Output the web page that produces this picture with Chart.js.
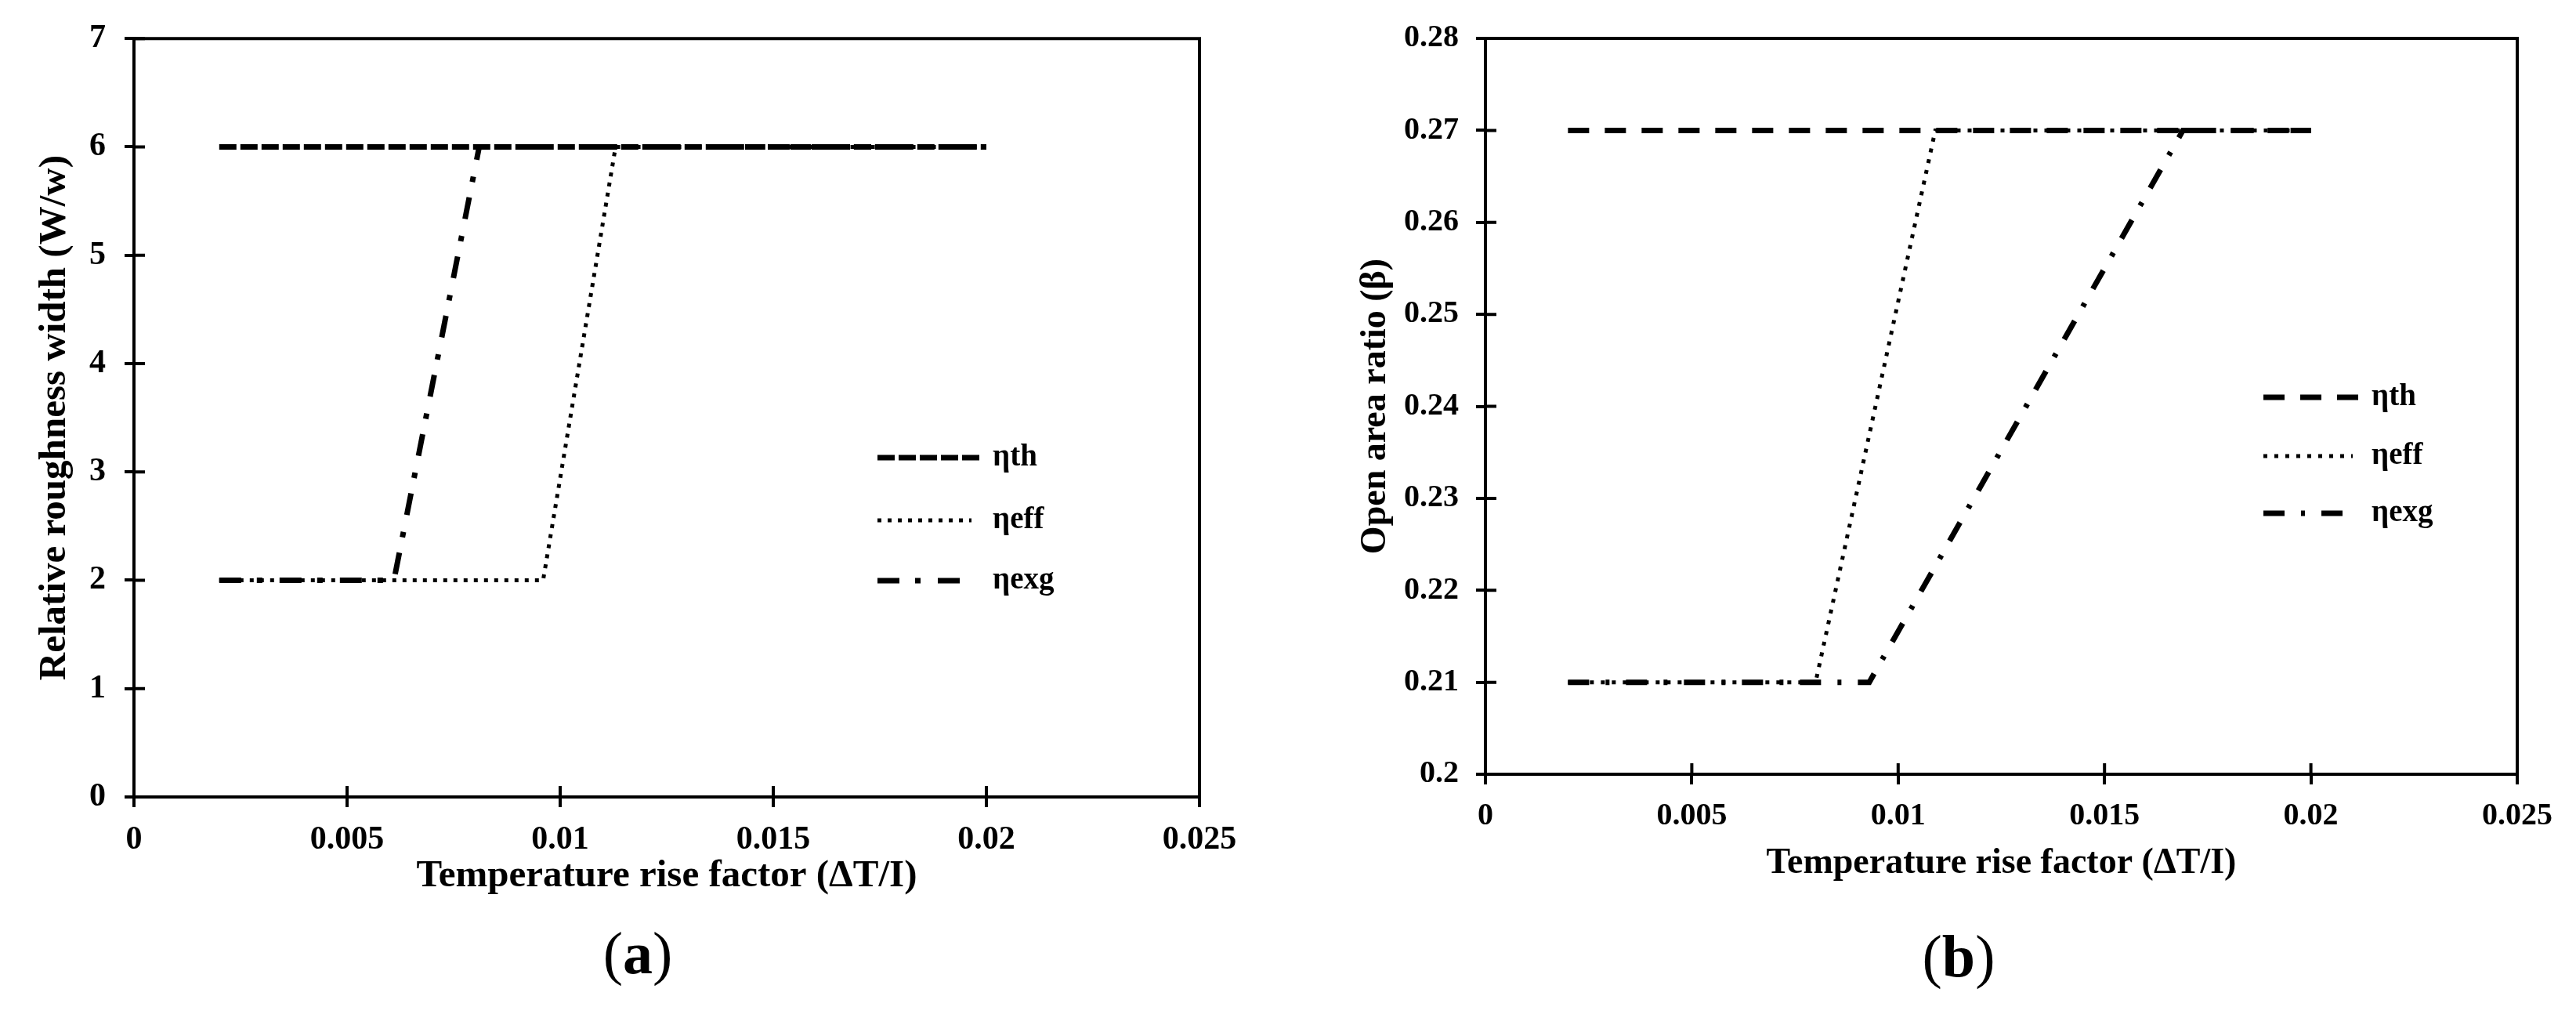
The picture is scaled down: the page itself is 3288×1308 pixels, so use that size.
<!DOCTYPE html>
<html>
<head>
<meta charset="utf-8">
<script src="https://cdn.jsdelivr.net/npm/chart.js@4.4.1/dist/chart.umd.min.js"></script>
<style>
  html, body { margin: 0; padding: 0; background: #fff; overflow: hidden; }
  #page { position: relative; width: 3288px; height: 1308px; background: #fff; }
  canvas { position: absolute; top: 0; }
  .cap { position: absolute; width: 200px; height: 90px; line-height: 90px; text-align: center;
         font-family: "Liberation Serif", serif; font-size: 76px; color: #000; }
</style>
</head>
<body>
<div id="page">
  <canvas id="chartA" width="1640" height="1308" style="left:0px"></canvas>
  <canvas id="chartB" width="1638" height="1308" style="left:1650px"></canvas>
  <div class="cap" style="left:714px; top:1171px">(<b>a</b>)</div>
  <div class="cap" style="left:2400px; top:1175px">(<b>b</b>)</div>
</div>
<script>
// DATA - (a) relative roughness width
const seriesNames = ["\u03b7th", "\u03b7eff", "\u03b7exg"];

const aThX = [0.002, 0.02];
const aThY = [6, 6];
const aEffX = [0.002, 0.0096, 0.0113, 0.02];
const aEffY = [2, 2, 6, 6];
const aExgX = [0.002, 0.0061, 0.0081, 0.02];
const aExgY = [2, 2, 6, 6];

// DATA - (b) open area ratio
const bThX = [0.002, 0.02];
const bThY = [0.27, 0.27];
const bEffX = [0.002, 0.008, 0.0109, 0.02];
const bEffY = [0.21, 0.21, 0.27, 0.27];
const bExgX = [0.002, 0.0093, 0.0169, 0.02];
const bExgY = [0.21, 0.21, 0.27, 0.27];

// tick labels
const xTicks = [0, 0.005, 0.01, 0.015, 0.02, 0.025];
const aYTicks = [0, 1, 2, 3, 4, 5, 6, 7];
const bYTicks = [0.2, 0.21, 0.22, 0.23, 0.24, 0.25, 0.26, 0.27, 0.28];

const FONT = "'Liberation Serif', 'Times New Roman', serif";

function toPoints(xs, ys) {
  return xs.map((x, i) => ({ x: x, y: ys[i] }));
}
function fmt(v) {
  return String(+v.toFixed(4));
}

// frame on top/right + inner half of the tick marks (ticks cross the axes in the original)
const frameTicks = {
  id: 'frameTicks',
  afterDraw(chart) {
    const ctx = chart.ctx;
    const a = chart.chartArea;
    const xs = chart.scales.x, ys = chart.scales.y;
    ctx.save();
    ctx.strokeStyle = '#000';
    ctx.lineWidth = 4;
    ctx.beginPath();
    ctx.moveTo(a.left, a.top);
    ctx.lineTo(a.right, a.top);
    ctx.lineTo(a.right, a.bottom);
    ctx.stroke();
    ctx.beginPath();
    xs.ticks.forEach(t => {
      const px = xs.getPixelForValue(t.value);
      ctx.moveTo(px, a.bottom);
      ctx.lineTo(px, a.bottom - 14);
    });
    ys.ticks.forEach(t => {
      const py = ys.getPixelForValue(t.value);
      ctx.moveTo(a.left, py);
      ctx.lineTo(a.left + 14, py);
    });
    ctx.stroke();
    ctx.restore();
  }
};

// legend drawn inside the plot, like the original figure
const innerLegend = {
  id: 'innerLegend',
  afterDraw(chart, args, opts) {
    const ctx = chart.ctx;
    ctx.save();
    chart.data.datasets.forEach((ds, i) => {
      const y = opts.rows[i];
      ctx.strokeStyle = '#000';
      ctx.lineWidth = ds.borderWidth;
      ctx.setLineDash(ds.borderDash || []);
      ctx.beginPath();
      ctx.moveTo(opts.x, y);
      ctx.lineTo(opts.x + opts.lengths[i], y);
      ctx.stroke();
      ctx.setLineDash([]);
      ctx.fillStyle = '#000';
      ctx.font = 'bold ' + opts.size + 'px ' + FONT;
      ctx.textAlign = 'left';
      ctx.textBaseline = 'middle';
      ctx.fillText(ds.label, opts.textX, y);
    });
    ctx.restore();
  }
};

function makeChart(el, cfg) {
  return new Chart(el, {
    type: 'line',
    data: {
      datasets: [
        { label: seriesNames[0], data: cfg.th, borderColor: '#000', borderWidth: 7, borderDash: cfg.dashTh },
        { label: seriesNames[1], data: cfg.eff, borderColor: '#000', borderWidth: 5, borderDash: cfg.dashEff },
        { label: seriesNames[2], data: cfg.exg, borderColor: '#000', borderWidth: 7, borderDash: cfg.dashExg }
      ]
    },
    options: {
      responsive: false,
      animation: false,
      devicePixelRatio: 1,
      elements: {
        point: { radius: 0, hoverRadius: 0 },
        line: { tension: 0, fill: false, borderCapStyle: 'butt', borderJoinStyle: 'miter' }
      },
      layout: { padding: cfg.padding },
      plugins: {
        legend: { display: false },
        tooltip: { enabled: false },
        innerLegend: cfg.legend
      },
      scales: {
        x: {
          type: 'linear',
          min: xTicks[0],
          max: xTicks[xTicks.length - 1],
          afterBuildTicks: s => { s.ticks = xTicks.map(v => ({ value: v })); },
          afterFit: s => { s.height = cfg.xHeight; },
          ticks: {
            color: '#000', padding: 17, maxRotation: 0, autoSkip: false,
            font: { family: FONT, size: cfg.tickSize, weight: 'bold' },
            callback: v => fmt(v)
          },
          grid: { drawOnChartArea: false, drawTicks: true, tickLength: 13, color: '#000', lineWidth: 4 },
          border: { display: true, color: '#000', width: 4 },
          title: {
            display: true, text: 'Temperature rise factor (\u0394T/I)', color: '#000',
            padding: { top: 0, bottom: cfg.xTitlePad },
            font: { family: FONT, size: cfg.titleSize, weight: 'bold', lineHeight: 1 }
          }
        },
        y: {
          type: 'linear',
          min: cfg.yTicks[0],
          max: cfg.yTicks[cfg.yTicks.length - 1],
          afterBuildTicks: s => { s.ticks = cfg.yTicks.map(v => ({ value: v })); },
          afterFit: s => { s.width = cfg.yWidth; },
          ticks: {
            color: '#000', padding: cfg.yTickPad, autoSkip: false,
            font: { family: FONT, size: cfg.tickSize, weight: 'bold' },
            callback: v => fmt(v)
          },
          grid: { drawOnChartArea: false, drawTicks: true, tickLength: 12, color: '#000', lineWidth: 4 },
          border: { display: true, color: '#000', width: 4 },
          title: {
            display: true, text: cfg.yTitle, color: '#000',
            padding: { top: cfg.yTitlePad, bottom: 0 },
            font: { family: FONT, size: cfg.titleSize, weight: 'bold', lineHeight: 1 }
          }
        }
      }
    },
    plugins: [frameTicks, innerLegend]
  });
}

// CHART (a)
makeChart(document.getElementById('chartA'), {
  th: toPoints(aThX, aThY),
  eff: toPoints(aEffX, aEffY),
  exg: toPoints(aExgX, aExgY),
  dashTh: [22, 5],
  dashEff: [5, 8],
  dashExg: [28, 20, 7, 22],
  yTicks: aYTicks,
  yTitle: 'Relative roughness width (W/w)',
  padding: { top: 48, right: 109, bottom: 161, left: 0 },
  xHeight: 130,
  yWidth: 171,
  tickSize: 42,
  titleSize: 49,
  yTickPad: 24,
  xTitlePad: 4,
  yTitlePad: 46,
  legend: { x: 1120, textX: 1267, rows: [584, 664, 741], lengths: [132, 120, 107], size: 39 }
});

// CHART (b)
makeChart(document.getElementById('chartB'), {
  th: toPoints(bThX, bThY),
  eff: toPoints(bEffX, bEffY),
  exg: toPoints(bExgX, bExgY),
  dashTh: [27, 20],
  dashEff: [5, 9],
  dashExg: [27, 21, 5, 21],
  yTicks: bYTicks,
  yTitle: 'Open area ratio (\u03b2)',
  padding: { top: 49, right: 75, bottom: 180, left: 0 },
  xHeight: 140,
  yWidth: 246,
  tickSize: 40,
  titleSize: 46,
  yTickPad: 22,
  xTitlePad: 3,
  yTitlePad: 83,
  legend: { x: 1239, textX: 1377, rows: [507, 582, 655], lengths: [121, 114, 101], size: 39 }
});
</script>
</body>
</html>
